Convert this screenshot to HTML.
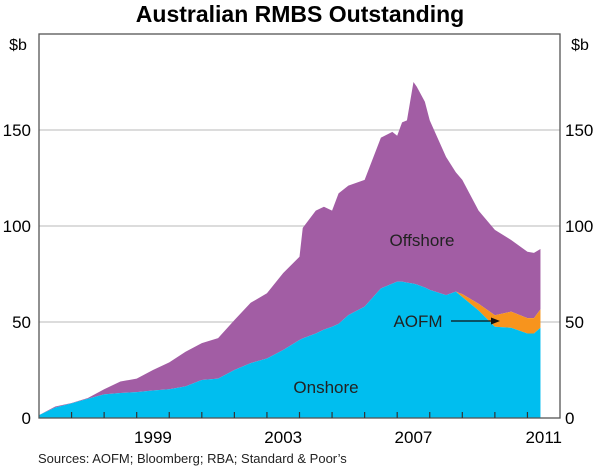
<!DOCTYPE html>
<html><head><meta charset="utf-8"><style>
body{margin:0;background:#fff;}
svg{display:block;font-family:"Liberation Sans",Arial,sans-serif;}
</style></head><body>
<svg id="chart" width="600" height="469" viewBox="0 0 600 469">
<text x="300" y="22" text-anchor="middle" font-size="23" font-weight="bold" fill="#000">Australian RMBS Outstanding</text>
<g id="grid"></g>
<g id="areas"></g>
<rect x="39" y="34" width="521" height="384" fill="none" stroke="#555" stroke-width="1.3"/>
<g id="axes"></g>
<text x="18" y="50" font-size="16" text-anchor="middle">$b</text>
<text x="580" y="50" font-size="16" text-anchor="middle">$b</text>
<text x="422" y="246" font-size="17" text-anchor="middle" fill="#222">Offshore</text>
<text x="326" y="393" font-size="17" text-anchor="middle" fill="#222">Onshore</text>
<text x="418" y="327" font-size="17" text-anchor="middle" fill="#222">AOFM</text>
<g>
<line x1="451" y1="321" x2="493" y2="321" stroke="#111" stroke-width="1.2"/>
<polygon points="500,321 491,317.5 491,324.5" fill="#111"/>
</g>
<text x="38" y="463" font-size="13" fill="#222">Sources: AOFM; Bloomberg; RBA; Standard &amp; Poor’s</text>
</svg>
<script>
const dates=[1996,1996.5,1997,1997.5,1998,1998.5,1999,1999.5,2000,2000.5,2001,2001.5,2002,2002.5,2003,2003.5,2004,2004.1,2004.5,2004.75,2005,2005.2,2005.5,2006,2006.5,2006.85,2007,2007.15,2007.3,2007.5,2007.6,2007.85,2008,2008.5,2008.8,2009,2009.5,2010,2010.5,2011,2011.2,2011.4];
const onshore=[1.5,5.5,7.6,10,12.3,13,13.5,14.3,15,16.5,19.8,20.5,25,28.6,31,35.4,40.6,41.5,44,46,47.5,49,53.6,58,67.5,70,71,71,70.5,70,69.5,68,66.7,64,65.8,63,56,47.5,47,44,44,47];
const aofm=[0,0,0,0,0,0,0,0,0,0,0,0,0,0,0,0,0,0,0,0,0,0,0,0,0,0,0,0,0,0,0,0,0,0,0,1.5,3.5,6,8.4,8,8,9.6];
const offshore=[0,0.5,0.2,0.4,2.7,6,7,10.7,14,18,19.2,21.1,26,31.4,34,40.1,43.4,57.5,64,64,60.5,68,67.4,66,78.5,79,76,83,84.5,105,103.1,96.7,88.3,72,62.2,59.5,48.5,44.5,37.3,34.6,34,31.4];
const yTicks=[0,50,100,150];
const xLabels=[1999,2003,2007,2011];
const NS="http://www.w3.org/2000/svg";
const X0=39,X1=560,Y0=418,Y1=34,XMIN=1996,XMAX=2012,YMAX=200;
function xs(d){return X0+(d-XMIN)/(XMAX-XMIN)*(X1-X0);}
function ys(v){return Y0-v/YMAX*(Y0-Y1);}
function mk(tag,attrs,parent){const e=document.createElementNS(NS,tag);for(const k in attrs)e.setAttribute(k,attrs[k]);parent.appendChild(e);return e;}
const grid=document.getElementById('grid'),areas=document.getElementById('areas'),axes=document.getElementById('axes');
yTicks.forEach(v=>{
 if(v>0){const g=mk('line',{x1:X0,x2:X1,y1:ys(v),y2:ys(v),stroke:'#c8c8c8','stroke-width':1.2},grid);
 
 }
 const l=mk('text',{x:31,y:ys(v)+6,'font-size':17,'text-anchor':'end'},axes);l.textContent=v;
 
 
 const r=mk('text',{x:565,y:ys(v)+6,'font-size':17,'text-anchor':'start'},axes);r.textContent=v;
 
 
});
for(let yr=XMIN+1;yr<XMAX;yr++){
 const t=mk('line',{x1:xs(yr),x2:xs(yr),y1:Y0,y2:Y0-6,stroke:'#333','stroke-width':1.2},axes);
 
 
}
xLabels.forEach(yr=>{
 const t=mk('text',{x:xs(yr+0.5),y:443,'font-size':17,'text-anchor':'middle'},axes);t.textContent=yr;
 
 
});
function band(lo,hi,color,name){
 let d='M'+xs(dates[0])+','+ys(hi[0]);
 for(let i=1;i<dates.length;i++)d+='L'+xs(dates[i])+','+ys(hi[i]);
 for(let i=dates.length-1;i>=0;i--)d+='L'+xs(dates[i])+','+ys(lo[i]);
 const p=mk('path',{d:d+'Z',fill:color},areas);
 
 
}
const zero=dates.map(()=>0);
const s1=onshore.slice();
const s2=onshore.map((v,i)=>v+aofm[i]);
const s3=s2.map((v,i)=>v+offshore[i]);
band(s2,s3,'#A25DA4','offshore-area');
band(s1,s2,'#F7941D','aofm-area');
band(zero,s1,'#00BEEF','onshore-area');
</script>
</body></html>
